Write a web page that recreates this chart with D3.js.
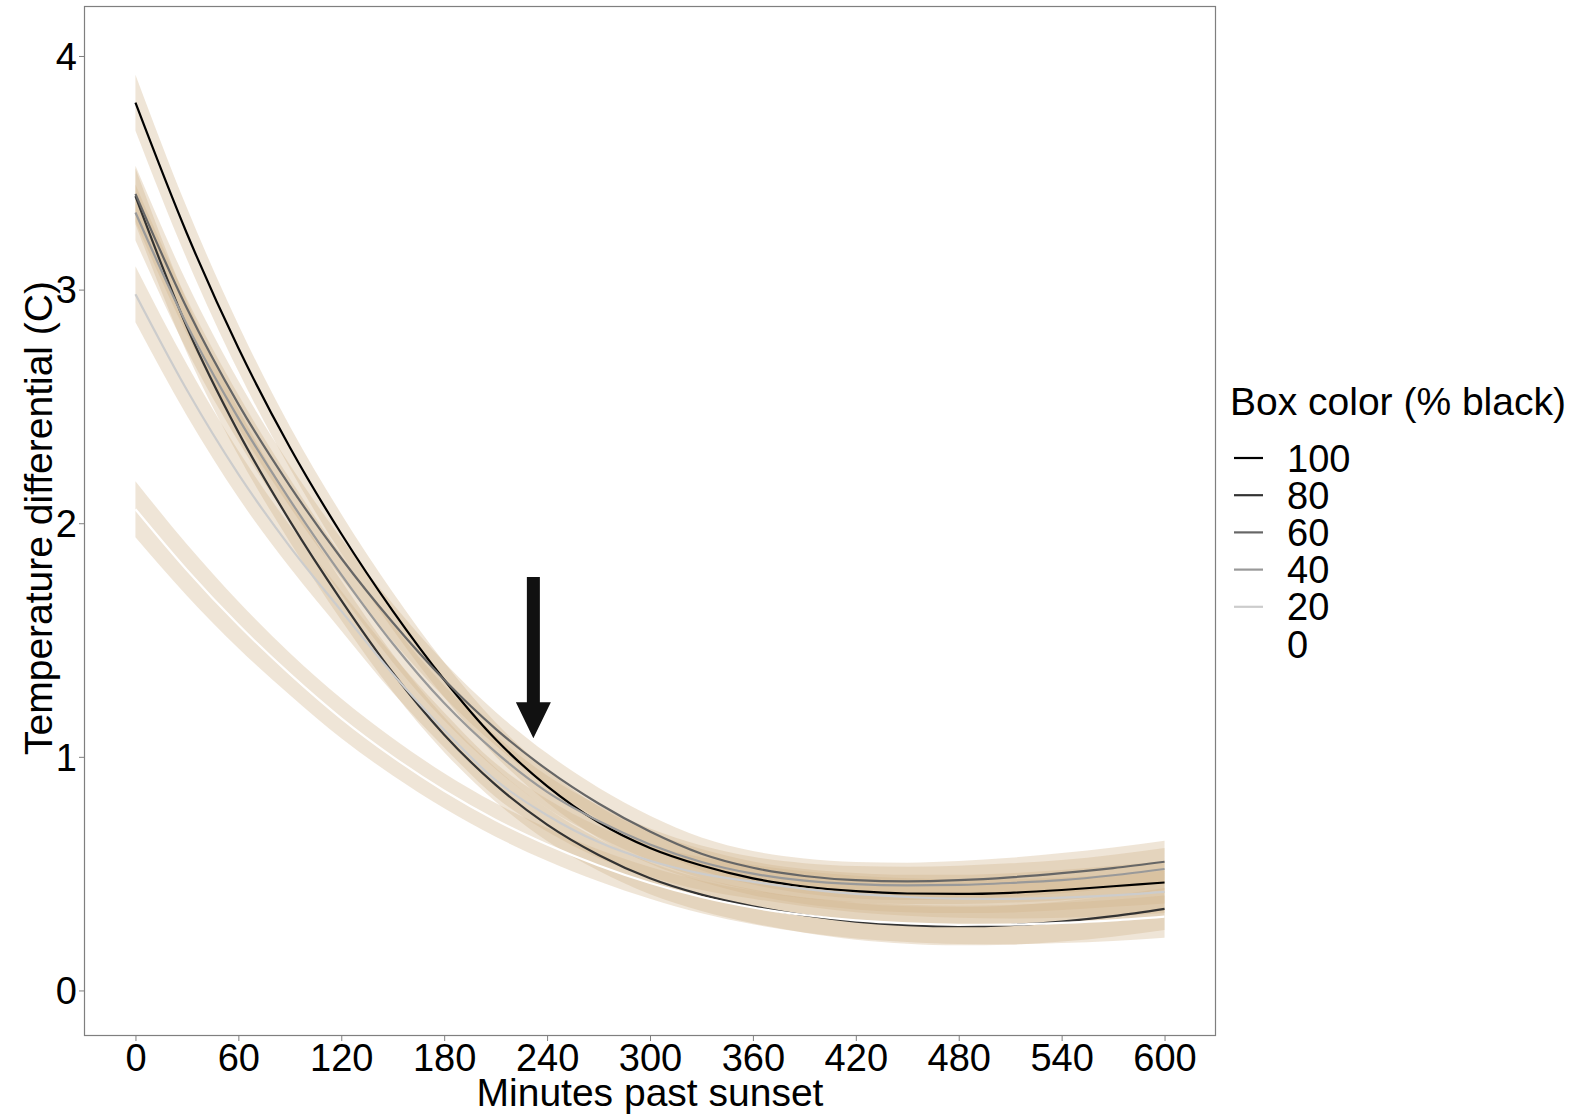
<!DOCTYPE html>
<html><head><meta charset="utf-8">
<script src="https://cdn.jsdelivr.net/npm/d3@7"></script>
<style>body{margin:0;background:#fff;} svg{display:block;} text{font-family:"Liberation Sans",Arial,sans-serif;}</style>
</head><body><svg id="c" width="1593" height="1117"></svg>
<script>
const minutes = [0,30,60,90,120,150,180,210,240,270,300,330,360,390,420,450,480,510,540,570,600];
const s100 = [3.80,3.24,2.75,2.325,1.955,1.625,1.33,1.075,0.875,0.72,0.61,0.535,0.48,0.445,0.425,0.415,0.413,0.418,0.43,0.446,0.462];
const s80  = [3.40,2.84,2.39,2.01,1.67,1.36,1.095,0.88,0.71,0.58,0.48,0.41,0.36,0.322,0.295,0.28,0.275,0.28,0.295,0.318,0.349];
const s60  = [3.41,2.92,2.51,2.16,1.85,1.575,1.33,1.12,0.945,0.80,0.68,0.585,0.525,0.49,0.472,0.467,0.472,0.484,0.502,0.524,0.551];
const s40  = [3.33,2.85,2.45,2.10,1.78,1.485,1.23,1.02,0.85,0.725,0.625,0.55,0.50,0.47,0.455,0.45,0.452,0.46,0.472,0.493,0.52];
const s20  = [2.98,2.57,2.21,1.90,1.625,1.355,1.115,0.90,0.75,0.635,0.555,0.50,0.465,0.435,0.413,0.40,0.393,0.392,0.397,0.407,0.422];
const s0   = [2.06,1.80,1.565,1.355,1.165,1.00,0.855,0.73,0.625,0.535,0.46,0.40,0.355,0.323,0.30,0.287,0.281,0.282,0.289,0.30,0.316];
const halfWidth = [0.12,0.11,0.10,0.09,0.085,0.08,0.075,0.072,0.07,0.068,0.068,0.07,0.072,0.075,0.078,0.08,0.082,0.084,0.086,0.088,0.09];
const seriesNames = ["100","80","60","40","20","0"];
const seriesValues = [s100,s80,s60,s40,s20,s0];
const lineColors = ["#000000","#333333","#666666","#999999","#cccccc","#ffffff"];
const xTicks = [0,60,120,180,240,300,360,420,480,540,600];
const yTicks = [0,1,2,3,4];
const arrowX = 232, arrowTop = 1.77, arrowTip = 1.08;

const svg = d3.select("#c");
const L=84, R=1216, T=6, B=1036;
const x = d3.scaleLinear().domain([-30,630]).range([L,R]);
const y = d3.scaleLinear().domain([-0.195,4.214]).range([B,T]);

svg.append("rect").attr("x",L).attr("y",T).attr("width",R-L).attr("height",B-T).attr("fill","#fff");

const area = d3.area().x(d=>x(d.x)).y0(d=>y(d.v-d.h)).y1(d=>y(d.v+d.h)).curve(d3.curveMonotoneX);
const line = d3.line().x(d=>x(d.x)).y(d=>y(d.v)).curve(d3.curveMonotoneX);
const data = seriesValues.map(vals=>minutes.map((m,i)=>({x:m,v:vals[i],h:halfWidth[i]})));

const g = svg.append("g");
data.forEach(d=>{
  g.append("path").attr("d",area(d)).attr("fill","#d2b48c").attr("fill-opacity",0.35);
});
data.forEach((d,k)=>{
  g.append("path").attr("d",line(d)).attr("fill","none").attr("stroke",lineColors[k]).attr("stroke-width",2.2);
});

// arrow
const ax = x(arrowX), ay0 = y(arrowTop), ay1 = y(arrowTip);
const headH = 36, headW = 17.5, shaftW = 6.5;
svg.append("path").attr("fill","#111")
  .attr("d",`M${ax-shaftW},${ay0} L${ax+shaftW},${ay0} L${ax+shaftW},${ay1-headH} L${ax+headW},${ay1-headH} L${ax},${ay1} L${ax-headW},${ay1-headH} L${ax-shaftW},${ay1-headH} Z`);

svg.append("rect").attr("x",L+0.5).attr("y",T+0.5).attr("width",R-L-1).attr("height",B-T-1)
  .attr("fill","none").attr("stroke","#7f7f7f").attr("stroke-width",1.2);

// axes
const xa = svg.append("g").attr("transform",`translate(0,${B})`)
  .call(d3.axisBottom(x).tickValues(xTicks).tickSize(5).tickSizeOuter(0).tickFormat(d3.format("d")));
const ya = svg.append("g").attr("transform",`translate(${L},0)`)
  .call(d3.axisLeft(y).tickValues(yTicks).tickSize(5).tickSizeOuter(0).tickPadding(2).tickFormat(d3.format("d")));
[xa,ya].forEach(a=>{
  a.select(".domain").remove();
  a.selectAll("line").attr("stroke","#7f7f7f");
  a.selectAll("text").attr("fill","#000").style("font-size","38px").style("font-family","Liberation Sans, Arial, sans-serif");
});
xa.selectAll("text").attr("y",35).attr("dy",0);
ya.selectAll("text").attr("dy","0.35em");

svg.append("text").attr("x",650).attr("y",1106).attr("text-anchor","middle")
  .style("font-size","39px").text("Minutes past sunset");
svg.append("text").attr("transform",`translate(52,518) rotate(-90)`).attr("text-anchor","middle")
  .style("font-size","39px").text("Temperature differential (C)");

// legend
const lg = svg.append("g");
lg.append("text").attr("x",1230).attr("y",415).style("font-size","39px").text("Box color (% black)");
const legY = d3.scalePoint().domain(seriesNames).range([458,644]);
seriesNames.forEach((n,k)=>{
  lg.append("line").attr("x1",1234).attr("x2",1263).attr("y1",legY(n)).attr("y2",legY(n))
    .attr("stroke",lineColors[k]).attr("stroke-width",2.2);
  lg.append("text").attr("x",1287).attr("y",legY(n)).attr("dy","0.36em").style("font-size","38px").text(n);
});
</script></body></html>
